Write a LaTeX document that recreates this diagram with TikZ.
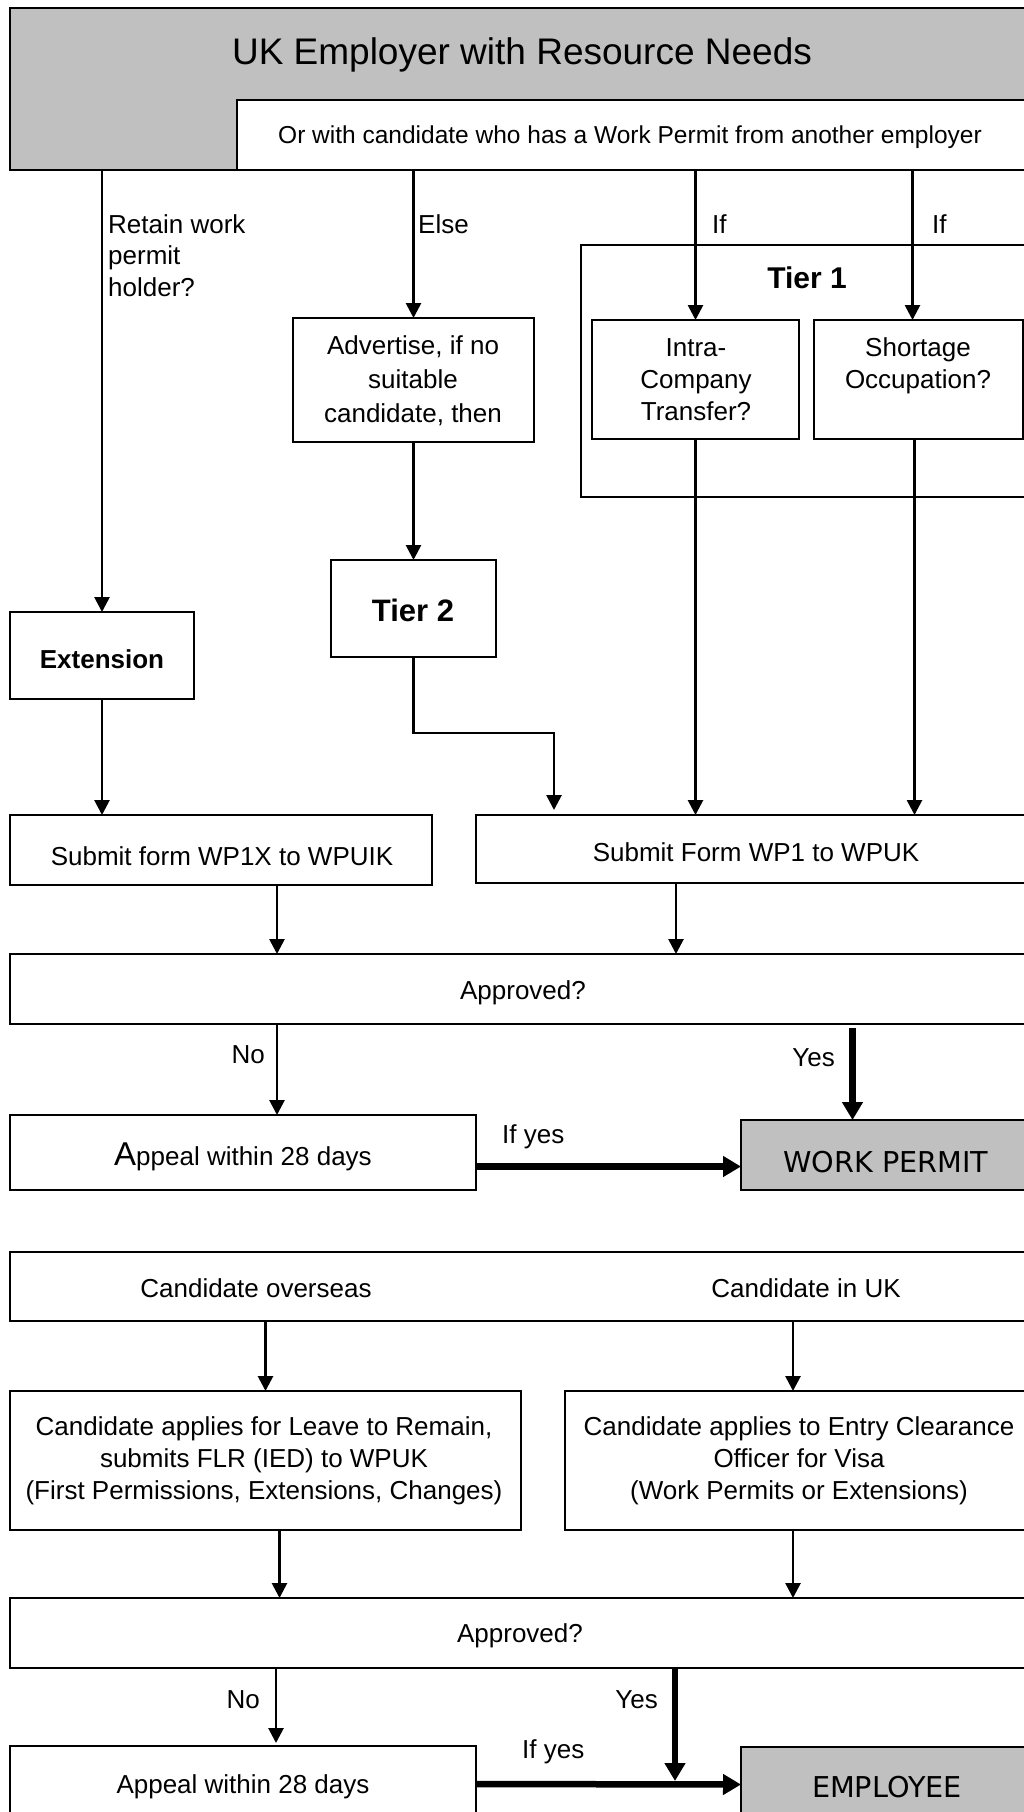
\documentclass[tikz,border=0pt]{standalone}
\usepackage{fontspec}
\setmainfont{Liberation Sans}
\newfontfamily\capsfont{DejaVu Sans}
\usetikzlibrary{arrows.meta}
\definecolor{boxgray}{RGB}{192,192,192}
\newcommand{\pbox}[6][]{%
  \node[pbox,#1,minimum width=#5-#3,minimum height=#6-#4] (#2) at (#3,#4) {};
}

\begin{document}
\begin{tikzpicture}[x=1pt,y=-1pt,
  pbox/.style={draw,line width=2pt,fill=white,anchor=north west,inner sep=0pt,outer sep=0pt},
  txt/.style={inner sep=0pt,anchor=base,align=center,font=\fontsize{26}{32}\selectfont},
  lbl/.style={inner sep=0pt,align=left,font=\fontsize{26}{31.5}\selectfont},
  big/.style={inner sep=0pt,anchor=base,font=\fontsize{30}{36}\selectfont\bfseries},
  caps/.style={inner sep=0pt,anchor=base,font=\capsfont\fontsize{28.7}{34}\selectfont},
  arr/.style={line width=2.7pt,-{Triangle[length=15pt,width=15pt]}},
  fatarr/.style={line width=6.5pt,-{Triangle[length=18pt,width=20pt]}}]
  \useasboundingbox (0,0) rectangle (1024,1812);
  \clip (0,0) rectangle (1024,1812);

  % employer and routes
  \pbox[fill=boxgray]{employer}{10}{8}{1040}{170}
  \pbox{orbox}{237}{100}{1040}{170}
  \node[txt,font=\fontsize{37}{44}\selectfont] (title) at (522,64) {UK Employer with Resource Needs};
  \node[txt,font=\fontsize{24.5}{30}\selectfont] (ortext) at (630,143)
    {Or with candidate who has a Work Permit from another employer};
  \pbox{tierone}{581}{245}{1040}{497}
  \node[big] (tieronelbl) at (807,288) {Tier 1};
  \pbox{intra}{592}{320}{799}{439}
  \pbox{short}{814}{320}{1023}{439}
  \pbox{advert}{293}{318}{534}{442}
  \pbox{tiertwo}{331}{560}{496}{657}
  \pbox{ext}{10}{612}{194}{699}
  % multi-line texts sit on their last baseline
  \node[txt] (intratext) at (696,420) {Intra-\\Company\\Transfer?};
  \node[txt] (shorttext) at (918,388) {Shortage\\Occupation?};
  \node[txt,font=\fontsize{26}{34}\selectfont] (adverttext) at (413,422)
    {Advertise, if no\\suitable\\candidate, then};
  \node[big,font=\fontsize{31}{36}\selectfont\bfseries] (tiertwotext) at (413,621) {Tier 2};
  \node[big,font=\fontsize{26}{32}\selectfont\bfseries] (exttext) at (102,668) {Extension};
  \node[lbl,anchor=base west] (retain) at (108,296) {Retain work\\permit\\holder?};
  \node[lbl,anchor=base west] (else) at (418,233) {Else};
  \node[lbl,anchor=base west] (ifone) at (712,233) {If};
  \node[lbl,anchor=base west] (iftwo) at (932,233) {If};

  \coordinate (shortin) at ([xshift=-6pt]short.north);
  \coordinate (shortout) at ([xshift=-4pt]short.south);
  \draw[arr] (ext.north |- employer.south) -- (ext.north);
  \draw[arr] (advert.north |- orbox.south) -- (advert.north);
  \draw[arr] (intra.north |- orbox.south) -- (intra.north);
  \draw[arr] (shortin |- orbox.south) -- (shortin);
  \draw[arr] (advert.south) -- (tiertwo.north);

  % forms
  \pbox{wpx}{10}{815}{432}{885}
  \pbox{wpone}{476}{815}{1040}{883}
  \node[txt] (wpxtext) at (222,865) {Submit form WP1X to WPUIK};
  \node[txt] (wponetext) at (756,861) {Submit Form WP1 to WPUK};
  \draw[arr] (ext.south) -- (ext.south |- wpx.north);
  \draw[arr] (tiertwo.south) -- ++(0,76) -| ([xshift=78pt,yshift=5pt]wpone.north west);
  \draw[arr] (intra.south) -- (intra.south |- wpone.north);
  \draw[arr] (shortout) -- (shortout |- wpone.north);

  % first decision
  \pbox{appr}{10}{954}{1040}{1024}
  \node[txt] (apprtext) at (523,999) {Approved?};
  \coordinate (wpxout) at ([xshift=56pt]wpx.south);
  \coordinate (wponeout) at ([xshift=200pt]wpone.south west);
  \draw[arr] (wpxout) -- (wpxout |- appr.north);
  \draw[arr] (wponeout) -- (wponeout |- appr.north);
  \pbox{appeal}{10}{1115}{476}{1190}
  \pbox[fill=boxgray]{permit}{741}{1120}{1040}{1190}
  \node[txt] (appealtext) at (243,1165) {{\fontsize{33}{32}\selectfont A}ppeal within 28 days};
  \node[caps] (permittext) at (886,1172) {WORK PERMIT};
  \coordinate (noone) at ([xshift=267pt]appr.south west);
  \coordinate (yesone) at ([xshift=-38pt]permit.north);
  \coordinate (ifyesone) at ([yshift=-14pt]appeal.east);
  \draw[arr] (noone) -- (noone |- appeal.north);
  \draw[fatarr,shorten <=4pt] (yesone |- appr.south) -- (yesone);
  \draw[fatarr] (ifyesone) -- (ifyesone -| permit.west);
  \node[lbl,anchor=base east] (nolbl) at (265,1063) {No};
  \node[lbl,anchor=base east] (yeslbl) at (835,1066) {Yes};
  \node[lbl,anchor=base west] (ifyeslbl) at (502,1143) {If yes};

  % candidate
  \pbox{cand}{10}{1252}{1040}{1321}
  \node[txt] (overseas) at (256,1297) {Candidate overseas};
  \node[txt] (inuk) at (806,1297) {Candidate in UK};
  \pbox{leave}{10}{1391}{521}{1530}
  \pbox{entry}{565}{1391}{1040}{1530}
  \node[txt] (leavetext) at (264,1499)
    {Candidate applies for Leave to Remain,\\submits FLR (IED) to WPUK\\(First Permissions, Extensions, Changes)};
  \node[txt] (entrytext) at (799,1499)
    {Candidate applies to Entry Clearance\\Officer for Visa\\(Work Permits or Extensions)};
  \coordinate (entryin) at ([xshift=228pt]entry.north west);
  \coordinate (entryout) at ([xshift=228pt]entry.south west);
  \coordinate (leaveout) at ([xshift=14pt]leave.south);
  \draw[arr] (leave.north |- cand.south) -- (leave.north);
  \draw[arr] (entryin |- cand.south) -- (entryin);

  % second decision
  \pbox{apprtwo}{10}{1598}{1040}{1668}
  \node[txt] (apprtwotext) at (520,1642) {Approved?};
  \draw[arr] (leaveout) -- (leaveout |- apprtwo.north);
  \draw[arr] (entryout) -- (entryout |- apprtwo.north);
  \pbox{appealtwo}{10}{1746}{476}{1822}
  \pbox[fill=boxgray]{employee}{741}{1747}{1040}{1822}
  \node[txt] (appealtwotext) at (243,1793) {Appeal within 28 days};
  \node[caps] (employeetext) at (887,1797) {EMPLOYEE};
  \coordinate (notwo) at ([xshift=266pt]apprtwo.south west);
  \coordinate (yestwo) at ([xshift=665pt]apprtwo.south west);
  \draw[arr] (notwo) -- ([yshift=3pt]notwo |- appealtwo.north);
  \draw[fatarr] (appealtwo.east) -- (employee.west);
  \draw[fatarr] (yestwo) -- ([yshift=3pt]yestwo |- appealtwo.east);
  \node[lbl,anchor=base east] (nolbltwo) at (260,1708) {No};
  \node[lbl,anchor=base east] (yeslbltwo) at (658,1708) {Yes};
  \node[lbl,anchor=base west] (ifyeslbltwo) at (522,1758) {If yes};
\end{tikzpicture}
\end{document}
